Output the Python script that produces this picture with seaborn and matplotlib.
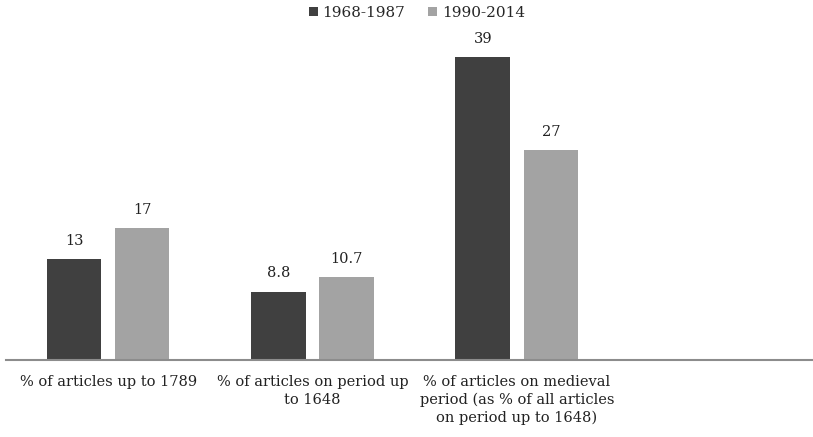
import matplotlib
matplotlib.use("Agg")
import matplotlib.pyplot as plt
import seaborn as sns
import pandas as pd

categories = [
    "% of articles up to 1789",
    "% of articles on period up\nto 1648",
    "% of articles on medieval\nperiod (as % of all articles\non period up to 1648)",
]
periods = ["1968-1987", "1990-2014"]
values_early = [13, 8.8, 39]
values_late = [17, 10.7, 27]
palette = {"1968-1987": "#404040", "1990-2014": "#a3a3a3"}

df = pd.DataFrame({
    "category": categories * 2,
    "period": [periods[0]] * 3 + [periods[1]] * 3,
    "value": values_early + values_late,
})

sns.set_style("white")
plt.rcParams["font.family"] = ["DejaVu Serif"]

fig = plt.figure(figsize=(8.13, 4.37), dpi=100)
ax = fig.add_axes([6 / 813, 77 / 437, 1 - 6 / 813, 360 / 437])

sns.barplot(data=df, x="category", y="value", hue="period", order=categories,
            hue_order=periods, palette=palette, width=0.667, gap=0.2,
            saturation=1, ax=ax, legend=True, edgecolor="none")

for container, vals in zip(ax.containers, [values_early, values_late]):
    ax.bar_label(container, labels=[f"{v:g}" for v in vals], padding=8,
                 fontsize=10.5, color="#222222")

ax.set_xlim(-0.5, 3.45)
ax.set_ylim(0, 46.3)
ax.set_xlabel("")
ax.set_ylabel("")
ax.set_yticks([])
ax.tick_params(axis="x", length=0, pad=11, labelsize=10.5, colors="#222222")
for lbl in ax.get_xticklabels():
    lbl.set_linespacing(1.3)
for side in ["top", "left", "right"]:
    ax.spines[side].set_visible(False)
ax.spines["bottom"].set_color("#8c8c8c")
ax.spines["bottom"].set_linewidth(1.5)

handles, labels = ax.get_legend_handles_labels()
ax.legend_.remove()
fig.legend(handles, labels, loc="center", bbox_to_anchor=(417 / 813, 1 - 13 / 437),
           ncol=2, frameon=False, fontsize=11, handlelength=0.6, handleheight=0.6,
           handletextpad=0.3, columnspacing=1.5)

fig.savefig("out.png", dpi=100)
